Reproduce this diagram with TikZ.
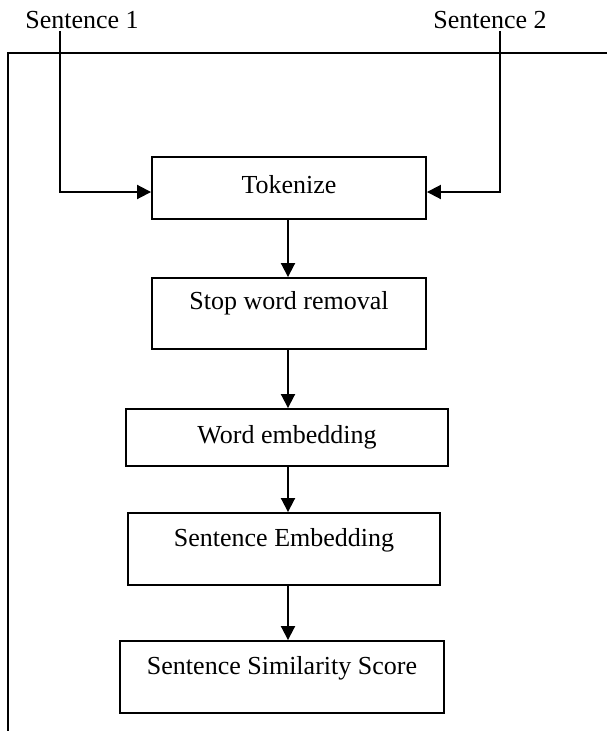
\documentclass[tikz,border=0pt]{standalone}
\usepackage{fontspec}
\setmainfont{Liberation Serif}
\usetikzlibrary{arrows.meta}
\tikzset{
  stepbox/.style={draw=black, line width=1.9pt, rectangle, inner sep=0pt},
  lbl/.style={font=\fontsize{26}{30}\selectfont, inner sep=0pt},
  flow/.style={line width=1.9pt, -{Triangle[length=14pt,width=14pt]}},
  frame/.style={line width=1.9pt}
}
\begin{document}
\begin{tikzpicture}[x=1pt,y=-1pt]
\useasboundingbox (0,0) rectangle (607,731);
% frame
\draw[frame] (607,53) -- (8,53) -- (8,731);
% inputs
\node[lbl] (s1) at (82,20) {Sentence 1};
\node[lbl] (s2) at (490,20) {Sentence 2};
% boxes
\node[stepbox, minimum width=274pt, minimum height=62pt,
      label={[lbl, yshift=3pt]center:Tokenize}] (tok) at (289,188) {};
\node[stepbox, minimum width=274pt, minimum height=71pt,
      label={[lbl, yshift=10pt]center:Stop word removal}] (stop) at (289,313.5) {};
\node[stepbox, minimum width=322pt, minimum height=57pt,
      label={[lbl, yshift=0pt]center:Word embedding}] (word) at (287,437.5) {};
\node[stepbox, minimum width=312pt, minimum height=72pt,
      label={[lbl, yshift=9pt]center:Sentence Embedding}] (sent) at (284,549) {};
\node[stepbox, minimum width=324pt, minimum height=72pt,
      label={[lbl, yshift=9pt]center:Sentence Similarity Score}] (sim) at (282,677) {};
% input connectors
\coordinate (b1) at (60,192);
\coordinate (b2) at (500,192);
\draw[flow] (b1 |- s1.south) ++(0,2) -- (b1) -- (b1 -| tok.west);
\draw[flow] (b2 |- s2.south) ++(0,2) -- (b2) -- (b2 -| tok.east);
% flow connectors
\coordinate (ax) at (288,0);
\draw[flow] (ax |- tok.south) -- (ax |- stop.north);
\draw[flow] (ax |- stop.south) -- (ax |- word.north);
\draw[flow] (ax |- word.south) -- (ax |- sent.north);
\draw[flow] (ax |- sent.south) -- (ax |- sim.north);
\end{tikzpicture}
\end{document}
